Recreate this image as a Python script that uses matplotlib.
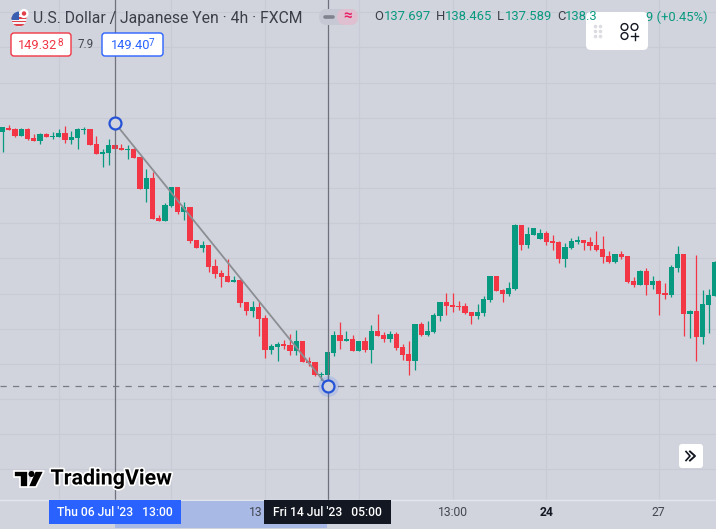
import matplotlib
matplotlib.use("Agg")
import matplotlib.pyplot as plt
import matplotlib.patches as patches
import matplotlib.patheffects as pe

W, H = 716, 529

opens = [144.18, 144.29, 144.26, 144.07, 144.26, 144.02, 143.94, 144.13, 144.05, 144.05,
         144.15, 143.97, 144.02, 144.23, 144.26, 143.86, 143.59, 143.62, 143.83, 143.75,
         143.70, 143.73, 143.51, 142.66, 142.95, 141.89, 141.81, 142.21, 142.71, 142.05,
         142.18, 141.30, 141.09, 141.17, 140.61, 140.42, 140.34, 140.18, 140.23, 139.65,
         139.41, 139.51, 139.22, 138.37, 138.45, 138.53, 138.50, 138.34, 138.61, 138.07,
         138.05, 137.70, 137.70, 138.29, 138.77, 138.61, 138.66, 138.34, 138.61, 138.37,
         138.87, 138.77, 138.66, 138.79, 138.45, 138.26, 138.07, 139.06, 138.77, 138.85,
         139.27, 139.65, 139.57, 139.54, 139.54, 139.38, 139.27, 139.35, 139.70, 140.34,
         139.97, 139.86, 139.99, 141.70, 141.17, 141.43, 141.33, 141.49, 141.27, 141.25,
         140.79, 141.09, 141.25, 141.30, 141.25, 141.17, 141.06, 140.87, 140.71, 140.93,
         140.87, 140.21, 140.10, 140.47, 140.10, 140.21, 139.89, 139.83, 140.55, 140.93,
         139.33, 139.41, 138.71, 139.57, 139.81]
highs = [144.31, 144.37, 144.29, 144.29, 144.29, 144.13, 144.15, 144.15, 144.18, 144.26,
         144.34, 144.21, 144.29, 144.31, 144.26, 144.07, 143.73, 143.99, 143.86, 143.86,
         143.83, 143.75, 143.51, 143.19, 143.11, 141.97, 142.29, 142.71, 142.71, 142.31,
         142.18, 141.30, 141.27, 141.17, 140.79, 140.50, 140.79, 140.34, 140.26, 139.65,
         139.67, 139.65, 139.30, 138.53, 138.58, 138.63, 138.79, 138.90, 138.61, 138.18,
         138.05, 137.78, 138.31, 138.87, 139.11, 138.87, 138.77, 138.61, 138.71, 139.03,
         139.33, 138.85, 138.87, 138.85, 138.53, 138.61, 139.06, 139.11, 139.14, 139.35,
         139.65, 139.89, 139.89, 139.67, 139.62, 139.38, 139.59, 139.81, 140.34, 140.34,
         139.99, 140.18, 141.73, 141.70, 141.65, 141.62, 141.59, 141.54, 141.43, 141.27,
         141.22, 141.35, 141.41, 141.30, 141.38, 141.54, 141.41, 141.01, 140.93, 141.01,
         140.87, 140.31, 140.50, 140.55, 140.34, 140.23, 140.15, 140.63, 141.14, 140.93,
         139.43, 140.90, 139.97, 139.99, 140.74]
lows = [143.65, 144.23, 144.05, 144.07, 143.97, 143.94, 143.86, 144.05, 143.99, 144.05,
        143.89, 143.86, 143.73, 144.13, 143.83, 143.59, 143.25, 143.30, 143.73, 143.70,
        143.46, 143.49, 142.66, 142.31, 141.86, 141.81, 141.81, 142.18, 141.99, 141.83,
        141.22, 141.09, 140.98, 140.45, 140.29, 140.05, 140.18, 140.18, 139.51, 139.30,
        139.25, 138.74, 138.15, 138.26, 138.07, 138.39, 138.23, 138.23, 138.05, 137.94,
        137.67, 137.57, 137.59, 138.21, 138.39, 138.61, 138.34, 138.34, 138.31, 138.02,
        138.74, 138.58, 138.58, 138.37, 138.10, 137.70, 137.83, 138.74, 138.74, 138.82,
        139.14, 139.30, 139.38, 139.43, 139.33, 139.06, 139.19, 139.27, 139.65, 139.94,
        139.65, 139.81, 139.97, 141.03, 141.09, 141.43, 141.33, 141.17, 141.03, 140.69,
        140.58, 141.06, 141.19, 141.03, 141.03, 141.01, 140.69, 140.69, 140.69, 140.79,
        140.15, 140.05, 140.10, 139.83, 139.99, 139.30, 139.73, 139.78, 140.45, 138.74,
        138.69, 138.07, 138.53, 138.82, 139.81]
closes = [144.31, 144.23, 144.07, 144.26, 143.99, 143.94, 144.13, 144.05, 144.07, 144.15,
          143.97, 144.05, 144.26, 144.26, 143.83, 143.59, 143.65, 143.83, 143.73, 143.70,
          143.73, 143.49, 142.66, 142.95, 141.86, 141.81, 142.23, 142.71, 142.05, 142.18,
          141.27, 141.09, 141.17, 140.58, 140.39, 140.31, 140.18, 140.23, 139.62, 139.41,
          139.51, 139.19, 138.37, 138.47, 138.53, 138.47, 138.34, 138.61, 138.05, 138.02,
          137.70, 137.73, 138.31, 138.77, 138.61, 138.66, 138.34, 138.61, 138.37, 138.87,
          138.74, 138.66, 138.79, 138.42, 138.23, 138.07, 139.06, 138.77, 138.87, 139.30,
          139.65, 139.54, 139.51, 139.51, 139.35, 139.27, 139.38, 139.73, 140.34, 139.94,
          139.86, 140.02, 141.70, 141.17, 141.46, 141.62, 141.49, 141.25, 141.22, 140.79,
          141.11, 141.27, 141.30, 141.22, 141.14, 141.03, 140.85, 140.71, 140.93, 140.85,
          140.18, 140.10, 140.47, 140.10, 140.21, 139.86, 139.83, 140.58, 140.93, 139.33,
          139.41, 138.71, 139.59, 139.83, 140.71]

grid_prices = [147.38, 146.45, 145.50, 144.55, 143.62, 142.69, 141.75, 140.82, 139.87,
               138.93, 137.99, 137.06, 136.13, 135.19]
grid_bars = [9, 27, 42, 57, 72, 87, 105]
tick_bars = [72, 87, 105]
tick_labels = ["13:00", "24", "27"]
tick_bold = [False, True, False]

start_bar, end_bar = 18, 52
start_price, end_price = 144.42, 137.41

BG = "#d1d4dc"
GRID = "#c8cbd5"
UP = "#089981"
DOWN = "#f23645"
BLUE = "#2962ff"
DARK = "#131722"
FONT = "Roboto"

fig = plt.figure(figsize=(W / 100, H / 100), dpi=100, facecolor=BG)

# price pane, 500 px high, time scale strip below it
ax = fig.add_axes([0, 29 / H, 1, 500 / H], facecolor=BG)
ax.set_xlim(-0.4, 114.16)
ax.set_ylim(134.37, 147.70)
ax.set_xticks([])
ax.set_yticks([])
for s in ax.spines.values():
    s.set_visible(False)

for p in grid_prices:
    ax.axhline(p, color=GRID, lw=0.8, zorder=1)
for b in grid_bars:
    ax.axvline(b, color=GRID, lw=0.8, zorder=1)

for i in range(len(opens)):
    col = UP if closes[i] >= opens[i] else DOWN
    ax.vlines(i, lows[i], highs[i], color=col, lw=0.9, zorder=3)
    ax.bar(i, abs(closes[i] - opens[i]), bottom=min(opens[i], closes[i]), width=0.82,
           color=col, lw=0, zorder=3)

# drawing tool on top of the candles
ax.axvline(start_bar, color="#6f727c", lw=0.9, zorder=4)
ax.axvline(end_bar, color="#6f727c", lw=0.9, zorder=4)
ax.axhline(end_price, color="#787b86", lw=0.9, ls=(0, (5, 5)), zorder=2)
ax.plot([start_bar, end_bar], [start_price, end_price], color="#8c8e94", lw=1.3, zorder=4)
ax.plot(end_bar, end_price, "o", ms=15, mfc=BLUE, mec="none", alpha=0.15, zorder=5)
ax.plot([start_bar, end_bar], [start_price, end_price], "o", ms=8.6, mfc=BG, mec="#2553d8",
        mew=1.6, ls="none", zorder=6)

# overlay in pixel coords for the ui stuff
ui = fig.add_axes([0, 0, 1, 1], facecolor="none")
ui.set_xlim(0, W)
ui.set_ylim(H, 0)
ui.axis("off")


def box(x, y, w, h, fc, ec="none", lw=0, r=3, z=8):
    ui.add_patch(patches.FancyBboxPatch((x + r, y + r), w - 2 * r, h - 2 * r,
                                        boxstyle=f"round,pad={r},rounding_size={r}",
                                        fc=fc, ec=ec, lw=lw, zorder=z))


def txt(x, y, s, color=DARK, size=9, ha="left", weight="normal", z=9):
    return ui.text(x, y, s, color=color, fontsize=size, ha=ha, va="center",
                   family=FONT, weight=weight, zorder=z)


# time scale
ui.plot([0, W], [500, 500], color="#e3e5ec", lw=1, zorder=2)
ui.add_patch(patches.Rectangle((115, 501), 212, 27, fc="#a9b9e6", ec="none", zorder=3))
ui.add_patch(patches.Rectangle((49, 500), 132, 24, fc=BLUE, ec="none", zorder=5))
ui.add_patch(patches.Rectangle((264, 500), 127, 24, fc=DARK, ec="none", zorder=5))
txt(115, 513, "Thu 06 Jul '23   13:00", "white", 8.7, "center", "medium", z=6)
txt(327.5, 513, "Fri 14 Jul '23   05:00", "white", 8.7, "center", "medium", z=6)
for b, lab, bold in zip(tick_bars, tick_labels, tick_bold):
    px = 2.5 + 6.25 * b
    txt(px, 513, lab, DARK if bold else "#434651", 8.7, "center", "bold" if bold else "normal", z=4)
# the rest of this label sits under the black date box
txt(262.5, 513, "13", "#434651", 8.7, "right", z=4)

# header
txt(33, 18, "U.S. Dollar / Japanese Yen · 4h · FXCM", "#3c3f49", 11.3)
flag = patches.Circle((19, 19), 7.5, fc="#f5f5f7", ec="none", zorder=8)
ui.add_patch(flag)
for yy in (14.5, 18, 21.5, 25):
    st = patches.Rectangle((11, yy - 0.9), 16, 1.8, fc="#e0404a", ec="none", zorder=9)
    ui.add_patch(st)
    st.set_clip_path(flag)
canton = patches.Rectangle((11, 11), 8, 9, fc="#3a5fb0", ec="none", zorder=10)
ui.add_patch(canton)
canton.set_clip_path(flag)
ui.add_patch(patches.Circle((24, 13.5), 4.6, fc="white", ec="none", zorder=11))
ui.add_patch(patches.Circle((24, 13.5), 2.2, fc="#e0404a", ec="none", zorder=12))

box(319, 9, 39, 16, "#c6c9d3", r=8)
box(337, 9, 21, 16, "#e0bfd0", r=8, z=8.5)
ui.plot([325, 333], [17, 17], color="#80838d", lw=2.6, solid_capstyle="round", zorder=9)
txt(347.5, 16.5, "≈", "#e91e63", 11, "center", "bold")

for lab, lab_x, val, val_x in [("O", 374, "137.697", 384), ("H", 436, "138.465", 445),
                               ("L", 497, "137.589", 505), ("C", 557, "138.3", 565)]:
    txt(lab_x, 17, lab, "#3c3f49", 9.4)
    txt(val_x, 17, val, UP, 9.4)
txt(708, 17, "9 (+0.45%)", UP, 9.4, "right")

# price labels
box(11, 33, 60, 23, "white", DOWN, 1)
txt(18, 45.5, "149.32", DOWN, 9.2)
txt(57, 43, "8", DOWN, 7.2)
txt(86, 45, "7.9", "#434651", 8.4, "center")
box(102, 33, 61, 23, "white", BLUE, 1)
txt(111, 45.5, "149.40", BLUE, 9.2)
txt(149, 43, "7", BLUE, 7.2)

# floating widget
box(586, 12, 62, 38, "white", r=5, z=8)
for dx in (595, 600):
    for dy in (26, 31, 36):
        ui.plot(dx, dy, "o", ms=1.6, color="#dcdde2", zorder=9)
for cx, cy in [(624.5, 27), (634.5, 27), (624.5, 36)]:
    ui.add_patch(patches.Circle((cx, cy), 3.4, fc="none", ec=DARK, lw=1, zorder=9))
ui.plot([631, 638], [36, 36], color=DARK, lw=1, zorder=9)
ui.plot([634.5, 634.5], [32.5, 39.5], color=DARK, lw=1, zorder=9)

# scroll button
box(679, 444, 24, 24, "white", r=3, z=8)
ui.plot([686, 690, 686], [451.5, 456, 460.5], color=DARK, lw=1.2, zorder=9)
ui.plot([690, 695, 690], [451.5, 456, 460.5], color=DARK, lw=1.4, zorder=9)

# logo
halo = [pe.withStroke(linewidth=2.4, foreground="white")]
logo_t = patches.Polygon([(14, 471), (28, 471), (28, 487), (20, 487), (20, 477), (14, 477)],
                         fc="black", ec="white", lw=1.2, zorder=8)
logo_v = patches.Polygon([(35, 471), (44, 471), (36, 487), (28, 487)],
                         fc="black", ec="white", lw=1.2, zorder=8)
ui.add_patch(logo_t)
ui.add_patch(logo_v)
ui.add_patch(patches.Circle((31.5, 474), 3, fc="black", ec="none", zorder=9))
logo = txt(50.5, 479, "TradingView", "black", 15.4, weight="bold")
logo.set_path_effects(halo)

fig.savefig("out.png", dpi=100, facecolor=BG)
